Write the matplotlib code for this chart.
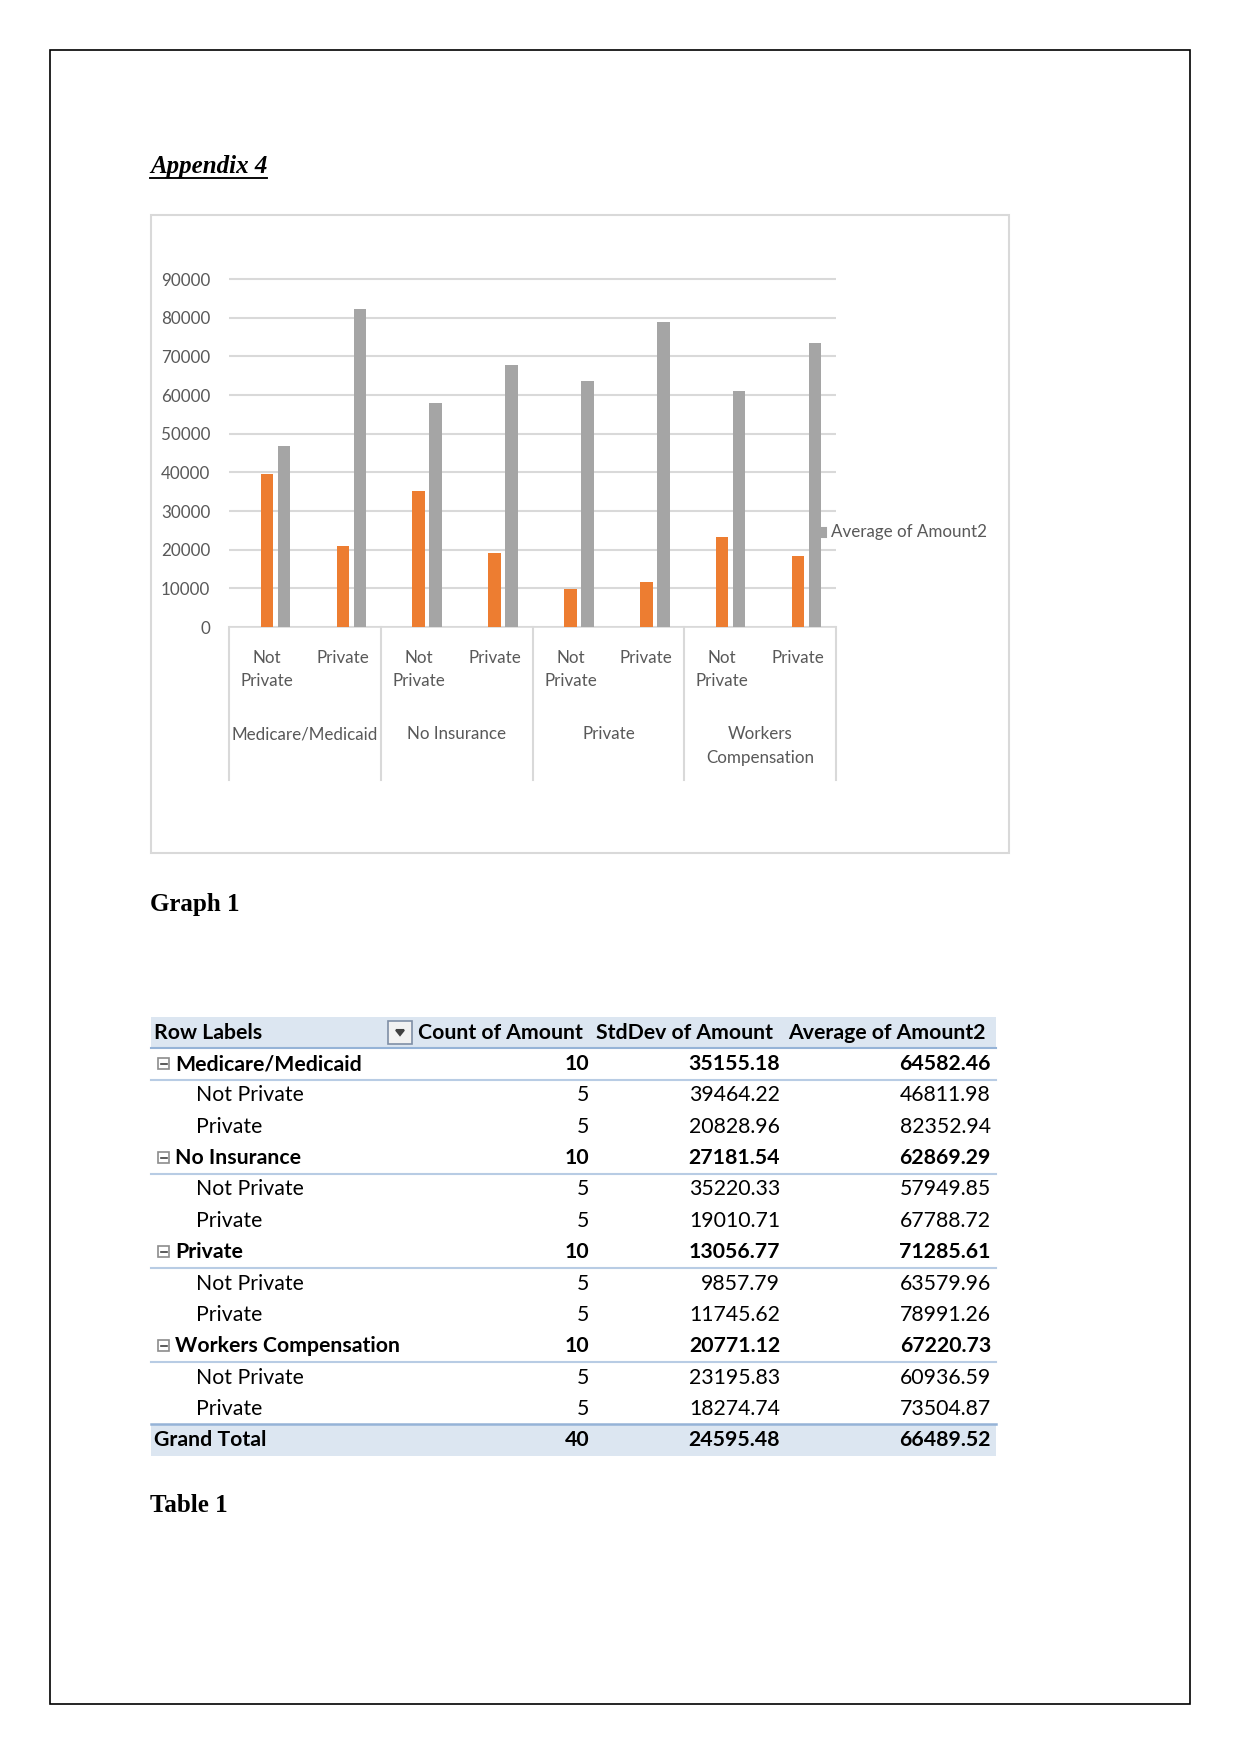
import matplotlib.pyplot as plt
from matplotlib.patches import Rectangle, Polygon
import numpy as np

W, H = 1241, 1754
DPI = 150

# chart data
groups = ["Medicare/Medicaid", "No Insurance", "Private", "Workers\nCompensation"]
subs = ["Not\nPrivate", "Private"] * 4
count_amt = [5, 5, 5, 5, 5, 5, 5, 5]
std_amt = [39464.22, 20828.96, 35220.33, 19010.71, 9857.79, 11745.62, 23195.83, 18274.74]
avg_amt2 = [46811.98, 82352.94, 57949.85, 67788.72, 63579.96, 78991.26, 60936.59, 73504.87]

# table data
row_labels = ["Medicare/Medicaid", "Not Private", "Private",
              "No Insurance", "Not Private", "Private",
              "Private", "Not Private", "Private",
              "Workers Compensation", "Not Private", "Private",
              "Grand Total"]
row_level = [0, 1, 1, 0, 1, 1, 0, 1, 1, 0, 1, 1, 2]
row_count = [10, 5, 5, 10, 5, 5, 10, 5, 5, 10, 5, 5, 40]
row_std = [35155.18, 39464.22, 20828.96, 27181.54, 35220.33, 19010.71,
           13056.77, 9857.79, 11745.62, 20771.12, 23195.83, 18274.74, 24595.48]
row_avg = [64582.46, 46811.98, 82352.94, 62869.29, 57949.85, 67788.72,
           71285.61, 63579.96, 78991.26, 67220.73, 60936.59, 73504.87, 66489.52]
col_heads = ["Row Labels", "Count of Amount", "StdDev of Amount", "Average of Amount2"]

SANS = ["Lato", "DejaVu Sans"]
SERIF = ["Liberation Serif", "DejaVu Serif"]
GREY_TXT = "#595959"
ORANGE = "#ED7D31"
GREY = "#A5A5A5"
BLUE = "#5B9BD5"
CH_FS = 8.2
TB_FS = 10.2

fig = plt.figure(figsize=(W / DPI, H / DPI), dpi=DPI)
pg = fig.add_axes([0, 0, 1, 1])
pg.set_xlim(0, W)
pg.set_ylim(H, 0)
pg.axis("off")

# page frame
pg.add_patch(Rectangle((50, 50), 1140, 1654, fill=False, ec="black", lw=0.8))

# title
t = pg.text(150, 166, "Appendix 4", family=SERIF, fontsize=12, fontweight="bold",
            fontstyle="italic", va="center", ha="left")
fig.canvas.draw()
bb = t.get_window_extent().transformed(pg.transData.inverted())
pg.plot([bb.x0, bb.x1], [178, 178], color="black", lw=0.9)

# chart box
pg.add_patch(Rectangle((151, 215), 858, 638, fill=False, ec="#D9D9D9", lw=1))

# chart axes
y0_px, y90_px = 627, 279
ymax = 91000
ah = (y0_px - y90_px) * ymax / 90000
ax = fig.add_axes([229 / W, 1 - y0_px / H, 607 / W, ah / H])
ax.set_xlim(-0.5, 7.5)
ax.set_ylim(0, ymax)
x = np.arange(len(subs))
bw = 0.165
step = 0.224
ax.bar(x - step, count_amt, bw, color=BLUE, zorder=3)
ax.bar(x, std_amt, bw, color=ORANGE, zorder=3)
ax.bar(x + step, avg_amt2, bw, color=GREY, zorder=3)

ax.set_yticks(range(0, 90001, 10000))
ax.yaxis.grid(True, color="#D9D9D9", lw=1)
ax.set_axisbelow(True)
ax.set_xticks([])
ax.tick_params(axis="y", length=0, pad=9, labelsize=CH_FS, labelcolor=GREY_TXT)
for lab in ax.get_yticklabels():
    lab.set_family(SANS)
for s in ["top", "right", "left"]:
    ax.spines[s].set_visible(False)
ax.spines["bottom"].set_color("#D9D9D9")
ax.patch.set_alpha(0)

tr = ax.get_xaxis_transform()


def yf(py):
    return (y0_px - py) / ah


for i, s in enumerate(subs):
    ax.text(i, yf(650), s, transform=tr, ha="center", va="top", family=SANS,
            fontsize=CH_FS, color=GREY_TXT, linespacing=1.55)
for g, name in enumerate(groups):
    ax.text(2 * g + 0.5, yf(726), name, transform=tr, ha="center", va="top",
            family=SANS, fontsize=CH_FS, color=GREY_TXT, linespacing=1.6)
for xd in [-0.5, 1.5, 3.5, 5.5, 7.5]:
    ax.plot([xd, xd], [0, yf(780)], transform=tr, color="#D9D9D9", lw=1, clip_on=False)

# legend entry
pg.add_patch(Rectangle((820, 528), 6, 9, color=GREY, zorder=5))
pg.text(831, 532, "Average of Amount2", family=SANS, fontsize=CH_FS, color=GREY_TXT,
        va="center", ha="left")

pg.text(150, 904, "Graph 1", family=SERIF, fontsize=12, fontweight="bold", va="center")

# pivot table
top, rh = 1017, 31.36
left, right = 151, 996
pg.add_patch(Rectangle((left, top), right - left, rh, color="#DCE6F1", lw=0))
n = len(row_labels)
pg.add_patch(Rectangle((left, top + rh * n), right - left, rh, color="#DCE6F1", lw=0))
pg.plot([left, right], [top + rh, top + rh], color="#95B3D7", lw=1)

head_x = [154, 418, 596, 788]
for hx, h in zip(head_x, col_heads):
    pg.text(hx, top + rh / 2, h, family=SANS, fontsize=TB_FS, fontweight="bold",
            va="center", ha="left")
# dropdown button
pg.add_patch(Rectangle((388, top + 4), 24, 23, fc="#F2F2F2", ec="#7F8FA6", lw=0.8))
pg.add_patch(Polygon([(396, top + 13), (404, top + 13), (400, top + 18)], color="#404040"))

val_x = [589, 780, 991]
for i, (lab, lev) in enumerate(zip(row_labels, row_level)):
    yc = top + rh * (i + 1.5)
    bold = "bold" if lev != 1 else "normal"
    if lev == 0:
        pg.add_patch(Rectangle((158, yc - 6), 11, 11, fill=False, ec="#8C8C8C", lw=0.8))
        pg.plot([160.5, 166.5], [yc - 0.5, yc - 0.5], color="#404040", lw=0.8)
        lx = 175
        pg.plot([left, right], [yc + rh / 2, yc + rh / 2], color="#B8CCE4", lw=1)
    elif lev == 1:
        lx = 196
    else:
        lx = 154
        pg.plot([left, right], [yc - rh / 2 - 1, yc - rh / 2 - 1], color="#95B3D7", lw=1.2)
    pg.text(lx, yc, lab, family=SANS, fontsize=TB_FS, fontweight=bold, va="center", ha="left")
    vals = [f"{row_count[i]}", f"{row_std[i]:.2f}", f"{row_avg[i]:.2f}"]
    for vx, v in zip(val_x, vals):
        pg.text(vx, yc, v, family=SANS, fontsize=TB_FS, fontweight=bold, va="center", ha="right")

pg.text(150, 1505, "Table 1", family=SERIF, fontsize=12, fontweight="bold", va="center")

fig.savefig("out.png", dpi=DPI)
